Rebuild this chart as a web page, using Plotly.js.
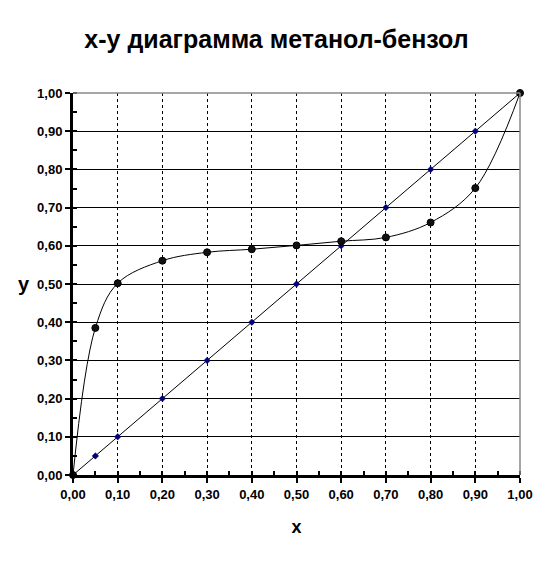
<!DOCTYPE html>
<html><head><meta charset="utf-8">
<script src="https://cdn.plot.ly/plotly-3.0.1.min.js"></script>
<style>html,body{margin:0;padding:0;background:#fff}</style>
</head><body><div id="chart" style="width:553px;height:567px"></div>
<script>
const xEq = [0, 0.05, 0.1, 0.2, 0.3, 0.4, 0.5, 0.6, 0.7, 0.8, 0.9, 1.0];
const yEq = [0, 0.385, 0.502, 0.561, 0.583, 0.591, 0.601, 0.612, 0.622, 0.661, 0.751, 1.0];
const xDiag = [0, 0.05, 0.1, 0.2, 0.3, 0.4, 0.5, 0.6, 0.7, 0.8, 0.9, 1.0];
const yDiag = [0, 0.05, 0.1, 0.2, 0.3, 0.4, 0.5, 0.6, 0.7, 0.8, 0.9, 1.0];
const titleText = 'x-y диаграмма метанол-бензол';

const font = 'Liberation Sans, Arial, sans-serif';
const traces = [
  {x: xDiag, y: yDiag, mode: 'lines+markers', type: 'scatter',
   line: {color: '#000', width: 1},
   marker: {symbol: 'diamond', size: 5, color: '#000080', line: {color: '#000060', width: 0.5}},
   cliponaxis: false, hoverinfo: 'none'},
  {x: xEq, y: yEq, mode: 'lines+markers', type: 'scatter',
   line: {color: '#000', width: 1, shape: 'spline', smoothing: 1},
   marker: {symbol: 'circle', size: 7, color: '#111', line: {color: '#000', width: 1}},
   cliponaxis: false, hoverinfo: 'none'}
];
const axisCommon = {
  range: [0, 1], dtick: 0.1, tickformat: '.2f',
  ticks: 'outside', ticklen: 5, tickwidth: 2, tickcolor: '#000',
  showline: true, linecolor: '#000', linewidth: 3,
  tickfont: {family: font, size: 13, color: '#000', weight: 'bold'},
  zeroline: false, fixedrange: true,
  minor: {dtick: 0.05, ticks: 'inside', ticklen: 4, tickwidth: 2, tickcolor: '#000', showgrid: false}
};
const layout = {
  width: 553, height: 567,
  margin: {l: 73, r: 33, t: 93, b: 92},
  paper_bgcolor: '#fff', plot_bgcolor: '#fff',
  separators: ', ',
  showlegend: false,
  title: {text: titleText, x: 0.5, xanchor: 'center', y: 0.93, yanchor: 'middle',
          font: {family: font, size: 25, color: '#000', weight: 'bold'}},
  xaxis: Object.assign({}, axisCommon, {
    showgrid: true, gridcolor: '#000', gridwidth: 1, griddash: 'dot',
    title: {text: 'x', standoff: 20, font: {family: font, size: 18, color: '#000', weight: 'bold'}}
  }),
  yaxis: Object.assign({}, axisCommon, {
    showgrid: true, gridcolor: '#000', gridwidth: 1
  }),
  shapes: [
    {type: 'line', xref: 'paper', yref: 'paper', x0: 0, x1: 1, y0: 1, y1: 1, line: {color: '#888', width: 1.5}},
    {type: 'line', xref: 'paper', yref: 'paper', x0: 1, x1: 1, y0: 0, y1: 1, line: {color: '#888', width: 1.5}}
  ],
  annotations: [
    {text: 'y', xref: 'paper', yref: 'paper', x: -0.11, y: 0.5, xanchor: 'center', yanchor: 'middle',
     showarrow: false, font: {family: font, size: 20, color: '#000', weight: 'bold'}}
  ]
};
Plotly.newPlot('chart', traces, layout, {displayModeBar: false, staticPlot: true});
</script></body></html>
